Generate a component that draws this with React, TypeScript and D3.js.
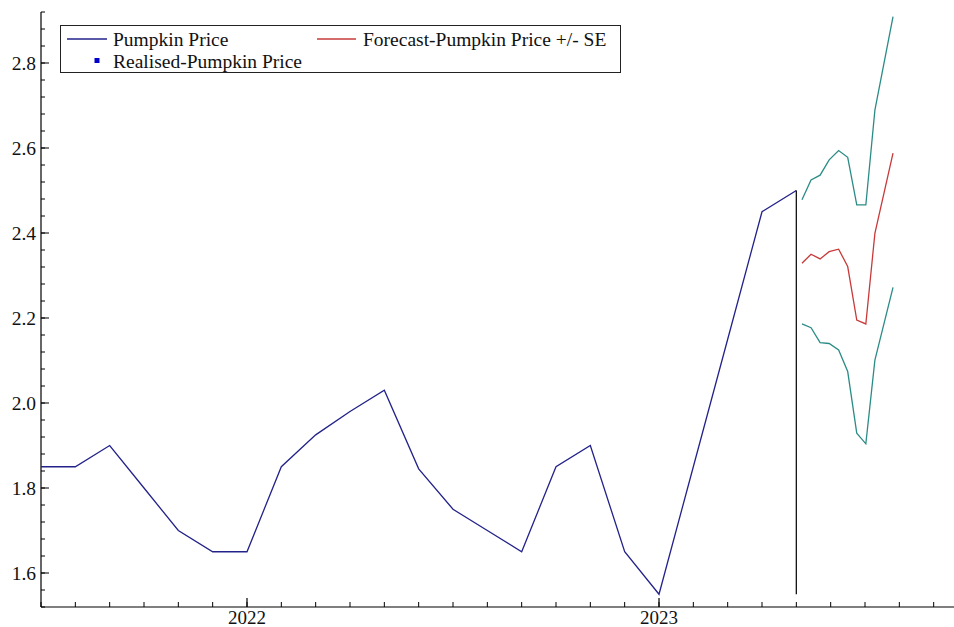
import React from "react";
import * as d3 from "d3";

// Monthly observed pumpkin price (decimal-year time, Jul 2021 .. May 2023)
const priceDates: number[] = [
  2021.5, 2021.5833, 2021.6667, 2021.75, 2021.8333, 2021.9167,
  2022.0, 2022.0833, 2022.1667, 2022.25, 2022.3333, 2022.4167,
  2022.5, 2022.5833, 2022.6667, 2022.75, 2022.8333, 2022.9167,
  2023.0, 2023.0833, 2023.1667, 2023.25, 2023.3333,
];
const priceValues: number[] = [
  1.85, 1.85, 1.9, 1.8, 1.7, 1.65,
  1.65, 1.85, 1.925, 1.98, 2.03, 1.845,
  1.75, 1.7, 1.65, 1.85, 1.9, 1.65,
  1.55, 1.85, 2.15, 2.45, 2.5,
];

// Forecast horizon points (decimal years)
const forecastDates: number[] = [
  2023.347, 2023.369, 2023.391, 2023.413, 2023.436, 2023.458,
  2023.48, 2023.502, 2023.524, 2023.568,
];
const forecastValues: number[] = [
  2.329, 2.35, 2.339, 2.356, 2.362, 2.321, 2.195, 2.186, 2.399, 2.588,
];
const upperSE: number[] = [
  2.478, 2.525, 2.536, 2.572, 2.594, 2.578, 2.466, 2.466, 2.689, 2.909,
];
const lowerSE: number[] = [
  2.186, 2.177, 2.142, 2.14, 2.125, 2.074, 1.929, 1.904, 2.101, 2.272,
];

const yMajorTicks: number[] = [1.6, 1.8, 2.0, 2.2, 2.4, 2.6, 2.8];
const yearTicks: number[] = [2022, 2023];
const yearLabels: string[] = ["2022", "2023"];

const legendLabels: string[] = [
  "Pumpkin Price",
  "Forecast-Pumpkin Price +/- SE",
  "Realised-Pumpkin Price",
];

const W = 954;
const H = 627;
const FONT = '"Liberation Serif", "Times New Roman", serif';
const BLUE = "#22228a";
const RED = "#c83a3a";
const TEAL = "#2b8c86";

export default function App() {
  const x = d3.scaleLinear().domain([2021.5, 2023.716]).range([41, 954]);
  const y = d3.scaleLinear().domain([1.52, 2.92]).range([607, 12]);

  const line = d3
    .line<[number, number]>()
    .x((d) => x(d[0]))
    .y((d) => y(d[1]));

  const pricePts = priceDates.map((d, i) => [d, priceValues[i]] as [number, number]);
  const fcPts = forecastDates.map((d, i) => [d, forecastValues[i]] as [number, number]);
  const upPts = forecastDates.map((d, i) => [d, upperSE[i]] as [number, number]);
  const loPts = forecastDates.map((d, i) => [d, lowerSE[i]] as [number, number]);

  const lastDate = priceDates[priceDates.length - 1];
  const minV = d3.min(priceValues) as number;
  const maxV = d3.max(priceValues) as number;

  const minorY: number[] = d3.range(0, 36).map((i) => 1.52 + i * 0.04);
  const monthTicks: number[] = d3.range(0, 27).map((i) => 2021.5 + i / 12).filter((v) => v <= 2023.716);

  const [x0, x1] = x.range();
  const yb = y(1.52);
  const yt = y(2.92);

  return (
    <svg
      width={W}
      height={H}
      style={{ position: "absolute", left: 0, top: 0, background: "#fff" }}
      fontFamily={FONT}
    >
      <rect x={0} y={0} width={W} height={H} fill="#fff" />
      {/* axes */}
      <line x1={x0} x2={x0} y1={yt} y2={yb} stroke="#000" strokeWidth={1.2} />
      <line x1={x0} x2={x1} y1={yb} y2={yb} stroke="#000" strokeWidth={1.2} />
      {minorY.map((v, i) => (
        <line key={"my" + i} x1={x0} x2={x0 + 4} y1={y(v)} y2={y(v)} stroke="#000" strokeWidth={1} />
      ))}
      {yMajorTicks.map((v) => (
        <g key={"Y" + v}>
          <line x1={x0} x2={x0 + 8} y1={y(v)} y2={y(v)} stroke="#000" strokeWidth={1} />
          <text x={x0 - 5} y={y(v)} dy="0.35em" textAnchor="end" fontSize={19.5} fill="#111">
            {v.toFixed(1)}
          </text>
        </g>
      ))}
      {monthTicks.map((v, i) => (
        <line key={"mx" + i} x1={x(v)} x2={x(v)} y1={yb} y2={yb - 5} stroke="#000" strokeWidth={1} />
      ))}
      {yearTicks.map((v, i) => (
        <g key={"yr" + v}>
          <line x1={x(v)} x2={x(v)} y1={yb} y2={yb - 9} stroke="#000" strokeWidth={1.2} />
          <text x={x(v)} y={yb + 17} textAnchor="middle" fontSize={19} fill="#111">
            {yearLabels[i]}
          </text>
        </g>
      ))}

      {/* series */}
      <path d={line(pricePts) || ""} fill="none" stroke={BLUE} strokeWidth={1.3} />
      <line x1={x(lastDate)} x2={x(lastDate)} y1={y(maxV)} y2={y(minV)} stroke="#111" strokeWidth={1.3} />
      <path d={line(upPts) || ""} fill="none" stroke={TEAL} strokeWidth={1.3} />
      <path d={line(loPts) || ""} fill="none" stroke={TEAL} strokeWidth={1.3} />
      <path d={line(fcPts) || ""} fill="none" stroke={RED} strokeWidth={1.3} />

      {/* legend */}
      <rect x={60.5} y={25.5} width={560} height={47} fill="#fff" stroke="#222" strokeWidth={1} />
      <line x1={67} x2={107} y1={39} y2={39} stroke={BLUE} strokeWidth={1.3} />
      <text x={113} y={39} dy="0.35em" fontSize={19.5} fill="#111">{legendLabels[0]}</text>
      <line x1={317} x2={356} y1={39} y2={39} stroke={RED} strokeWidth={1.3} />
      <text x={363} y={39} dy="0.35em" fontSize={19.5} fill="#111">{legendLabels[1]}</text>
      <rect x={94.5} y={58} width={5} height={5} fill="#0000cc" />
      <text x={113} y={61} dy="0.35em" fontSize={19.5} fill="#111">{legendLabels[2]}</text>
    </svg>
  );
}
